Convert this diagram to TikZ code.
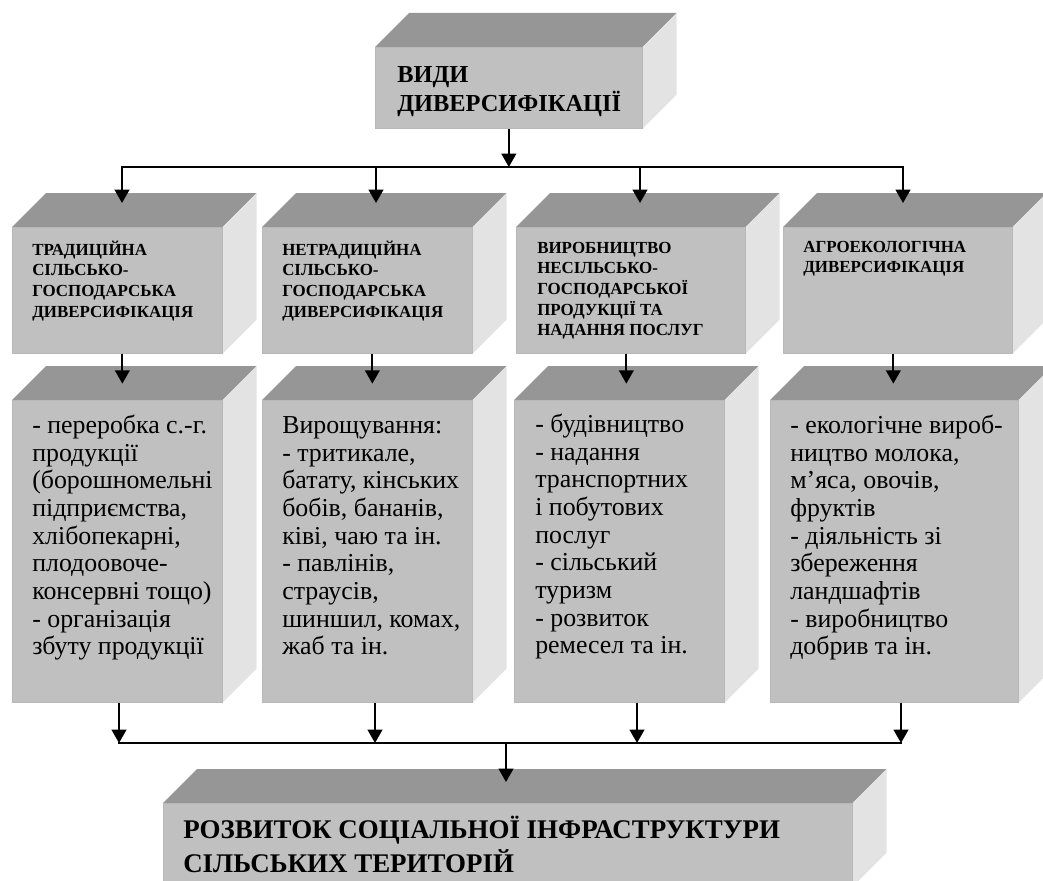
\documentclass[tikz,border=0pt]{standalone}
\usepackage{fontspec}
\setmainfont{Liberation Serif}
\usetikzlibrary{
    arrows.meta,
    calc,
}
\definecolor{facefront}{RGB}{192,192,192}
\definecolor{facetop}{RGB}{150,150,150}
\definecolor{faceside}{RGB}{227,227,227}

\begin{document}
\begin{tikzpicture}[
        x=0.75pt, y=-0.75pt,
        block/.style={rectangle, fill=facefront, draw=black!28, line width=0.5pt, anchor=north west, inner sep=0pt,
            append after command={\pgfextra{
                \fill[facetop] (\tikzlastnode.north west) -- ++(34,-34) -- ($(\tikzlastnode.north east)+(34,-34)$) -- (\tikzlastnode.north east) -- cycle;
                \fill[faceside] (\tikzlastnode.north east) -- ++(34,-34) -- ($(\tikzlastnode.south east)+(34,-34)$) -- (\tikzlastnode.south east) -- cycle;}}},
        wh/.style 2 args={minimum width=#1*0.75pt, minimum height=#2*0.75pt},
        title/.style={anchor=north west, inner sep=0pt, align=left, font=\fontsize{18.3}{20.25}\selectfont\bfseries},
        head/.style={anchor=north west, inner sep=0pt, align=left, font=\fontsize{12.7}{15.5}\selectfont\bfseries},
        body/.style={anchor=north west, inner sep=0pt, align=left, font=\fontsize{19.4}{20.75}\selectfont},
        result/.style={anchor=north west, inner sep=0pt, align=left, font=\fontsize{20.2}{24}\selectfont\bfseries},
        arr/.style={draw, line width=1.5pt, -{Triangle[length=10pt,width=11pt]}},
        bus/.style={draw, line width=1.5pt, line cap=rect},
        ]
        \useasboundingbox (0,0) rectangle (1043,881);
        \clip (0,0) rectangle (1043,881);
        \node[block, wh={267}{81}] (VID) at (375,47) {};
        \node[block, wh={210}{126}] (TR1) at (12,227) {};
        \node[block, wh={210}{126}] (TR2) at (262,227) {};
        \node[block, wh={229}{126}] (TR3) at (516,227) {};
        \node[block, wh={229}{126}] (TR4) at (783,227) {};
        \node[block, wh={210}{302}] (CT1) at (12,400) {};
        \node[block, wh={210}{302}] (CT2) at (262,400) {};
        \node[block, wh={210}{302}] (CT3) at (514,400) {};
        \node[block, wh={248}{302}] (CT4) at (770,400) {};
        \node[block, wh={689}{83}] (RES) at (163,803) {};

        \node[title] (VIDt) at ($(VID.north west)+(22,16)$) {\strut ВИДИ\\ДИВЕРСИФІКАЦІЇ};
        \node[head] (TR1t) at ($(TR1.north west)+(20,13.5)$) {\strut ТРАДИЦІЙНА\\СІЛЬСЬКО-\\ГОСПОДАРСЬКА\\ДИВЕРСИФІКАЦІЯ};
        \node[head] (TR2t) at ($(TR2.north west)+(20,13.5)$) {\strut НЕТРАДИЦІЙНА\\СІЛЬСЬКО-\\ГОСПОДАРСЬКА\\ДИВЕРСИФІКАЦІЯ};
        \node[head] (TR3t) at ($(TR3.north west)+(21,11.5)$) {\strut ВИРОБНИЦТВО\\НЕСІЛЬСЬКО-\\ГОСПОДАРСЬКОЇ\\ПРОДУКЦІЇ ТА\\НАДАННЯ ПОСЛУГ};
        \node[head] (TR4t) at ($(TR4.north west)+(20,10.5)$) {\strut АГРОЕКОЛОГІЧНА\\ДИВЕРСИФІКАЦІЯ};
        \node[body] (CT1t) at ($(CT1.north west)+(20,13.7)$) {\strut - переробка с.-г.\\продукції\\(борошномельні\\підприємства,\\хлібопекарні,\\плодоовоче-\\консервні тощо)\\- організація\\збуту продукції};
        \node[body] (CT2t) at ($(CT2.north west)+(20,13.7)$) {\strut Вирощування:\\- тритикале,\\батату, кінських\\бобів, бананів,\\ківі, чаю та ін.\\- павлінів,\\страусів,\\шиншил, комах,\\жаб та ін.};
        \node[body] (CT3t) at ($(CT3.north west)+(21,13)$) {\strut - будівництво\\- надання\\транспортних\\і побутових\\послуг\\- сільський\\туризм\\- розвиток\\ремесел та ін.};
        \node[body] (CT4t) at ($(CT4.north west)+(20,13.7)$) {\strut - екологічне вироб-\\ництво молока,\\м’яса, овочів,\\фруктів\\- діяльність зі\\збереження\\ландшафтів\\- виробництво\\добрив та ін.};
        \node[result] (RESt) at ($(RES.north west)+(20,12.6)$) {\strut РОЗВИТОК СОЦІАЛЬНОЇ ІНФРАСТРУКТУРИ\\СІЛЬСЬКИХ ТЕРИТОРІЙ};

        \coordinate (U1) at (122,167);
        \coordinate (U2) at (376,167);
        \coordinate (U3) at (640,167);
        \coordinate (U4) at (903,167);
        \coordinate (D1) at (119,743);
        \coordinate (D2) at (375,743);
        \coordinate (D3) at (637,743);
        \coordinate (D4) at (901,743);
        \coordinate (DC) at (506,743);

        \draw[arr] (VID.south) -- (VID.south |- U1);
        \draw[bus] (U1) -- (U4);
        \draw[arr] (U1) -- ($(U1 |- TR1.north)+(0,-24)$);
        \draw[arr] (U2) -- ($(U2 |- TR2.north)+(0,-24)$);
        \draw[arr] (U3) -- ($(U3 |- TR3.north)+(0,-24)$);
        \draw[arr] (U4) -- ($(U4 |- TR4.north)+(0,-24)$);
        \draw[arr] ($(TR1.south)+(5,0)$) -- ++(0,30);
        \draw[arr] ($(TR2.south)+(5,0)$) -- ++(0,30);
        \draw[arr] ($(TR3.south)+(-4.5,0)$) -- ++(0,30);
        \draw[arr] ($(TR4.south)+(-4.5,0)$) -- ++(0,30);
        \draw[arr] (CT1.south -| D1) -- (D1);
        \draw[arr] (CT2.south -| D2) -- (D2);
        \draw[arr] (CT3.south -| D3) -- (D3);
        \draw[arr] (CT4.south -| D4) -- (D4);
        \draw[bus] (D1) -- (D4);
        \draw[arr] (DC) -- ($(DC |- RES.north)+(0,-21)$);
    \end{tikzpicture}
\end{document}
